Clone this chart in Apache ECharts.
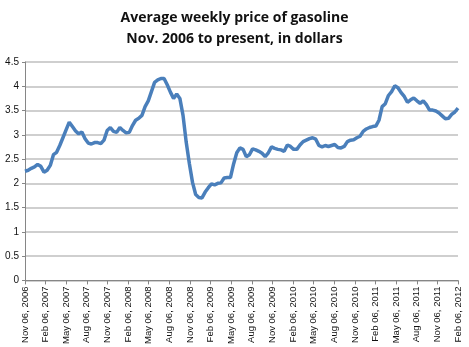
<!DOCTYPE html>
<html>
<head>
<meta charset="utf-8">
<script src="https://cdn.jsdelivr.net/npm/echarts@6/dist/echarts.min.js"></script>
<style>
  html, body { margin: 0; padding: 0; background: #ffffff; }
  #chart { width: 469px; height: 347px; }
</style>
</head>
<body>
<div id="chart"></div>
<script>
// Quarterly tick labels on the x axis
const tickLabels = [
  "Nov 06, 2006", "Feb 06, 2007", "May 06, 2007", "Aug 06, 2007",
  "Nov 06, 2007", "Feb 06, 2008", "May 06, 2008", "Aug 06, 2008",
  "Nov 06, 2008", "Feb 06, 2009", "May 06, 2009", "Aug 06, 2009",
  "Nov 06, 2009", "Feb 06, 2010", "May 06, 2010", "Aug 06, 2010",
  "Nov 06, 2010", "Feb 06, 2011", "May 06, 2011", "Aug 06, 2011",
  "Nov 06, 2011", "Feb 06, 2012"
];

// Average price (dollars), read every two weeks from Nov 06, 2006 to Feb 06, 2012
const prices2006_2008 = [
  2.25, 2.27, 2.31, 2.34, 2.39, 2.35, 2.23, 2.27, 2.37, 2.59,
  2.64, 2.78, 2.94, 3.10, 3.26, 3.17, 3.08, 3.02, 3.06, 2.92,
  2.83, 2.81, 2.84, 2.84, 2.82, 2.89, 3.09, 3.15, 3.07, 3.05,
  3.15, 3.09, 3.04, 3.05, 3.19, 3.30, 3.34, 3.40, 3.58, 3.70,
  3.89, 4.08, 4.13, 4.16, 4.16, 4.03, 3.88, 3.75, 3.84, 3.75,
  3.40, 2.85, 2.41, 2.02, 1.77, 1.71, 1.70
];
const prices2009_2010 = [
  1.82, 1.91, 1.99, 1.97, 2.00, 2.01, 2.11, 2.12, 2.12, 2.40,
  2.63, 2.73, 2.70, 2.55, 2.59, 2.71, 2.69, 2.66, 2.62, 2.55,
  2.63, 2.75, 2.72, 2.70, 2.69, 2.66, 2.79, 2.76, 2.70, 2.70,
  2.79, 2.86, 2.89, 2.92, 2.94, 2.91, 2.78, 2.75, 2.78, 2.76,
  2.78, 2.80, 2.74, 2.73, 2.76, 2.86, 2.89, 2.90, 2.94, 2.97
];
const prices2011_2012 = [
  3.07, 3.12, 3.15, 3.17, 3.18, 3.30, 3.58, 3.64, 3.81, 3.89,
  4.01, 3.97, 3.87, 3.79, 3.67, 3.72, 3.76, 3.70, 3.65, 3.70,
  3.62, 3.51, 3.51, 3.49, 3.45, 3.39, 3.33, 3.34, 3.42, 3.47,
  3.55
];
const prices = prices2006_2008.concat(prices2009_2010, prices2011_2012);
const periodIndex = prices.map((_, i) => i);

const yTicks = { min: 0, max: 4.5, interval: 0.5 };

const chart = echarts.init(document.getElementById('chart'), null, { renderer: 'canvas' });
chart.setOption({
  animation: false,
  backgroundColor: '#ffffff',
  title: {
    text: 'Average weekly price of gasoline\nNov. 2006 to present, in dollars',
    left: 'center',
    top: 3,
    textStyle: {
      fontFamily: 'Open Sans',
      fontWeight: 'bold',
      fontSize: 14,
      lineHeight: 21,
      color: '#111111'
    }
  },
  grid: { left: 25, right: 11, top: 62, bottom: 66, containLabel: false },
  xAxis: [
    {
      type: 'category',
      data: tickLabels,
      boundaryGap: false,
      axisLine: { lineStyle: { color: '#868686', width: 1 } },
      axisTick: { show: true, length: 4, lineStyle: { color: '#868686' } },
      axisLabel: {
        rotate: 90,
        interval: 0,
        margin: 6,
        fontFamily: 'Liberation Sans',
        fontSize: 9.5,
        color: '#111111'
      },
      splitLine: { show: false }
    },
    {
      type: 'category',
      data: periodIndex,
      boundaryGap: false,
      show: false
    }
  ],
  yAxis: {
    type: 'value',
    min: yTicks.min,
    max: yTicks.max,
    interval: yTicks.interval,
    axisLine: { show: true, lineStyle: { color: '#868686', width: 1 } },
    axisTick: { show: true, length: 3, lineStyle: { color: '#868686' } },
    axisLabel: {
      margin: 6,
      fontFamily: 'Liberation Sans',
      fontSize: 10,
      color: '#111111'
    },
    splitLine: { lineStyle: { color: '#bfbfbf', width: 1.5 } }
  },
  series: [{
    type: 'line',
    xAxisIndex: 1,
    data: prices,
    showSymbol: false,
    smooth: false,
    lineStyle: { color: '#4a7fbb', width: 3.5 },
    itemStyle: { color: '#4a7fbb' }
  }]
});
</script>
</body>
</html>
